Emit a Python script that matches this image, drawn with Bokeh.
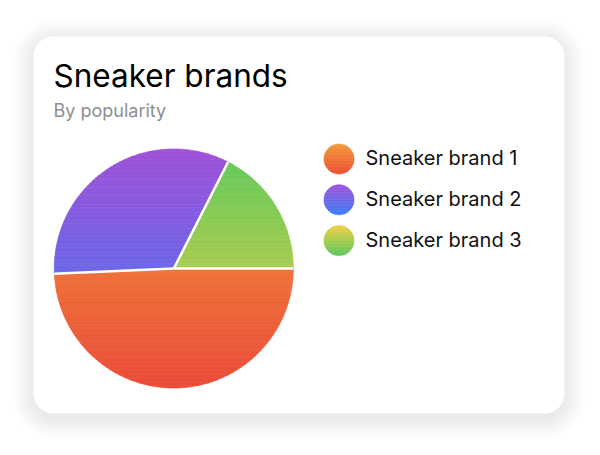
import numpy as np
from bokeh.plotting import figure
from bokeh.models import Range1d
from bokeh.core.properties import value
from bokeh.embed import file_html
from bokeh.resources import INLINE

# ---- data ----
title = "Sneaker brands"
subtitle = "By popularity"
brands = ["Sneaker brand 1", "Sneaker brand 2", "Sneaker brand 3"]
popularity = [49.3, 33.2, 17.5]

# ---- styles ----
pie_top_colors = ["#F39A3A", "#A050D8", "#5EC95C"]
pie_bottom_colors = ["#EA4B38", "#3B7BF5", "#F2CF45"]
legend_top_colors = ["#F39A3A", "#A050D8", "#F2CF45"]
legend_bottom_colors = ["#EC5236", "#3B7BF5", "#5EC95C"]

W, H = 600, 455
FONT = value("Inter")


def hex_rgb(h):
    h = h.lstrip("#")
    return np.array([int(h[i:i + 2], 16) for i in (0, 2, 4)], dtype=float)


def mix(c0, c1, t):
    a, b = hex_rgb(c0), hex_rgb(c1)
    c = a + (b - a) * min(max(t, 0.0), 1.0)
    return "#%02x%02x%02x" % tuple(int(round(v)) for v in c)


def clip_half(pts, keep, inter):
    out = []
    n = len(pts)
    for i in range(n):
        a = pts[i]
        b = pts[(i + 1) % n]
        ka, kb = keep(a), keep(b)
        if ka:
            out.append(a)
        if ka != kb:
            out.append(inter(a, b))
    return out


def clip_band(px, py, y0, y1):
    pts = list(zip(px, py))

    def at_y(yc):
        def f(a, b):
            t = (yc - a[1]) / (b[1] - a[1])
            return (a[0] + t * (b[0] - a[0]), yc)
        return f

    pts = clip_half(pts, lambda q: q[1] >= y0, at_y(y0))
    if len(pts) < 3:
        return None
    pts = clip_half(pts, lambda q: q[1] <= y1, at_y(y1))
    if len(pts) < 3:
        return None
    return [q[0] for q in pts], [q[1] for q in pts]


def gradient_patches(px, py, ytop, ybot, ctop, cbot, nb):
    xs, ys, cs = [], [], []
    edges = np.linspace(ytop, ybot, nb + 1)
    for i in range(nb):
        r = clip_band(px, py, edges[i], edges[i + 1])
        if r is None:
            continue
        xs.append(r[0])
        ys.append(r[1])
        t = ((edges[i] + edges[i + 1]) / 2 - ytop) / (ybot - ytop)
        cs.append(mix(ctop, cbot, t))
    return xs, ys, cs


def rounded_rect(x0, y0, x1, y1, r, n=16):
    xs, ys = [], []
    corners = [(x1 - r, y0 + r, -90, 0), (x1 - r, y1 - r, 0, 90),
               (x0 + r, y1 - r, 90, 180), (x0 + r, y0 + r, 180, 270)]
    for cx, cy, a0, a1 in corners:
        a = np.radians(np.linspace(a0, a1, n))
        xs.extend(cx + r * np.cos(a))
        ys.extend(cy + r * np.sin(a))
    return xs, ys


p = figure(width=W, height=H, x_range=Range1d(0, W), y_range=Range1d(H, 0),
           output_backend="svg", toolbar_location=None, min_border=0,
           x_axis_location=None, y_axis_location=None)
p.grid.visible = False
p.outline_line_color = None
p.background_fill_color = "white"
p.border_fill_color = "white"

# ---- card with soft shadow ----
CX0, CY0, CX1, CY1, CR = 33, 36, 564, 413, 20
sh_x, sh_y, sh_a = [], [], []
for e in np.arange(26, 0, -1.0):
    rx, ry = rounded_rect(CX0 - e, CY0 - e + 4, CX1 + e, CY1 + e + 4, CR + e)
    sh_x.append(rx)
    sh_y.append(ry)
    sh_a.append(0.0012 + 0.0045 * (1 - e / 26.0))
p.patches(sh_x, sh_y, fill_color="black", fill_alpha=sh_a, line_color=None)
rx, ry = rounded_rect(CX0, CY0, CX1, CY1, CR)
p.patch(rx, ry, fill_color="white", line_color=None)

# ---- texts ----
p.text(x=[53], y=[74.5], text=[title], text_font=FONT, text_font_size="31.5px",
       text_color="#000000", text_baseline="alphabetic", text_align="left")
p.text(x=[53], y=[109.5], text=[subtitle], text_font=FONT, text_font_size="18px",
       text_color="#8E8E93", text_baseline="alphabetic", text_align="left")

# ---- pie ----
PCX, PCY, PR = 173.3, 268.0, 119.5
total = float(sum(popularity))
angles = np.cumsum([0.0] + [v / total * 2 * np.pi for v in popularity])
all_x, all_y, all_c = [], [], []
for i in range(len(popularity)):
    a = np.linspace(angles[i], angles[i + 1], 120)
    px = [PCX] + list(PCX + PR * np.cos(a))
    py = [PCY] + list(PCY + PR * np.sin(a))
    xs, ys, cs = gradient_patches(px, py, PCY - PR, PCY + PR,
                                  pie_top_colors[i], pie_bottom_colors[i], 90)
    all_x += xs
    all_y += ys
    all_c += cs
p.patches(all_x, all_y, fill_color=all_c, line_color=all_c, line_width=0.7)

bx = PCX + PR * np.cos(angles[:-1])
by = PCY + PR * np.sin(angles[:-1])
p.segment(x0=[PCX] * len(bx), y0=[PCY] * len(bx), x1=list(bx), y1=list(by),
          line_color="white", line_width=2.5)

# ---- legend ----
LX, LY0, LDY, LR = 338.5, 158.5, 40.8, 15.0
lg_x, lg_y, lg_c = [], [], []
for i in range(len(brands)):
    cy = LY0 + i * LDY
    a = np.linspace(0, 2 * np.pi, 80, endpoint=False)
    px = list(LX + LR * np.cos(a))
    py = list(cy + LR * np.sin(a))
    xs, ys, cs = gradient_patches(px, py, cy - LR, cy + LR,
                                  legend_top_colors[i], legend_bottom_colors[i], 20)
    lg_x += xs
    lg_y += ys
    lg_c += cs
p.patches(lg_x, lg_y, fill_color=lg_c, line_color=lg_c, line_width=0.6)
p.text(x=[365] * len(brands), y=[LY0 + i * LDY - 1.0 for i in range(len(brands))],
       text=brands, text_font=FONT, text_font_size="20px", text_color="#111111",
       text_baseline="alphabetic", text_align="left")

open("out.html", "w").write(file_html(p, INLINE))
